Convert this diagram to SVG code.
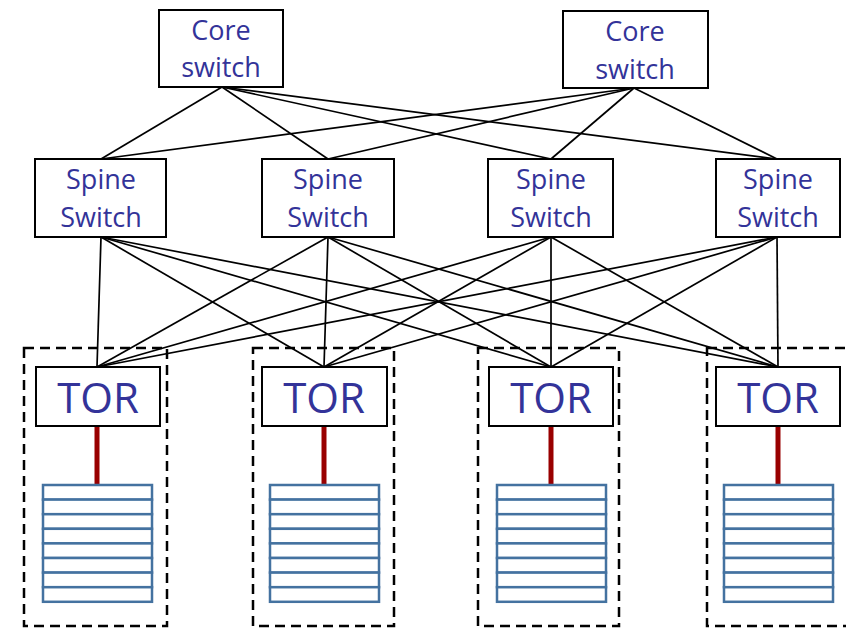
<svg xmlns="http://www.w3.org/2000/svg" width="846" height="628" viewBox="0 0 846 628">
<style>
.box{fill:#fff;stroke:#000;stroke-width:2}
.lbl{font-family:"Open Sans","Noto Sans",sans-serif;fill:#333399;text-anchor:middle}
.sw{font-size:27px}
.tor{font-size:42px}
.grp{fill:none;stroke:#000;stroke-width:2.5;stroke-dasharray:10,6}
.conn line{stroke:#000;stroke-width:1.7}
.conn line.up{stroke:#990000;stroke-width:5}
.srv{fill:#fff;stroke:#4472a0;stroke-width:2.5}
</style>
<rect width="846" height="628" fill="#fff"/>
<g id="racks">
<rect class="grp" x="24" y="348" width="143" height="278"/>
<rect class="grp" x="253" y="348" width="141" height="278"/>
<rect class="grp" x="478" y="348" width="141" height="278"/>
<rect class="grp" x="707" y="348" width="150" height="278"/>
</g>
<g class="conn" id="connectors">
<line x1="222" y1="87" x2="101" y2="159"/>
<line x1="222" y1="87" x2="328" y2="159"/>
<line x1="222" y1="87" x2="551" y2="159"/>
<line x1="222" y1="87" x2="777" y2="159"/>
<line x1="634" y1="88" x2="101" y2="159"/>
<line x1="634" y1="88" x2="328" y2="159"/>
<line x1="634" y1="88" x2="551" y2="159"/>
<line x1="634" y1="88" x2="777" y2="159"/>
<line x1="101" y1="237" x2="97" y2="367"/>
<line x1="101" y1="237" x2="324" y2="367"/>
<line x1="101" y1="237" x2="551" y2="367"/>
<line x1="101" y1="237" x2="778" y2="367"/>
<line x1="328" y1="237" x2="97" y2="367"/>
<line x1="328" y1="237" x2="324" y2="367"/>
<line x1="328" y1="237" x2="551" y2="367"/>
<line x1="328" y1="237" x2="778" y2="367"/>
<line x1="551" y1="237" x2="97" y2="367"/>
<line x1="551" y1="237" x2="324" y2="367"/>
<line x1="551" y1="237" x2="551" y2="367"/>
<line x1="551" y1="237" x2="778" y2="367"/>
<line x1="777" y1="237" x2="97" y2="367"/>
<line x1="777" y1="237" x2="324" y2="367"/>
<line x1="777" y1="237" x2="551" y2="367"/>
<line x1="777" y1="237" x2="778" y2="367"/>
<line class="up" x1="97" y1="426" x2="97" y2="485"/>
<line class="up" x1="324" y1="426" x2="324" y2="485"/>
<line class="up" x1="551" y1="426" x2="551" y2="485"/>
<line class="up" x1="778" y1="426" x2="778" y2="485"/>
</g>
<g id="core1"><rect class="box" x="159" y="10" width="124" height="77"/><text class="lbl sw" x="221" y="40">Core</text><text class="lbl sw" x="221" y="77">switch</text></g>
<g id="core2"><rect class="box" x="563" y="11" width="145" height="77"/><text class="lbl sw" x="635" y="41">Core</text><text class="lbl sw" x="635" y="79">switch</text></g>
<g id="spine1"><rect class="box" x="35" y="159" width="131" height="78"/><text class="lbl sw" x="101" y="189">Spine</text><text class="lbl sw" x="101" y="227">Switch</text></g>
<g id="spine2"><rect class="box" x="262" y="159" width="132" height="78"/><text class="lbl sw" x="328" y="189">Spine</text><text class="lbl sw" x="328" y="227">Switch</text></g>
<g id="spine3"><rect class="box" x="488" y="159" width="125" height="78"/><text class="lbl sw" x="551" y="189">Spine</text><text class="lbl sw" x="551" y="227">Switch</text></g>
<g id="spine4"><rect class="box" x="716" y="159" width="124" height="78"/><text class="lbl sw" x="778" y="189">Spine</text><text class="lbl sw" x="778" y="227">Switch</text></g>
<g id="tor1"><rect class="box" x="36" y="367" width="124" height="59"/><text class="lbl tor" x="98" y="413">TOR</text></g>
<g id="tor2"><rect class="box" x="262" y="367" width="125" height="59"/><text class="lbl tor" x="324" y="413">TOR</text></g>
<g id="tor3"><rect class="box" x="489" y="367" width="124" height="59"/><text class="lbl tor" x="551" y="413">TOR</text></g>
<g id="tor4"><rect class="box" x="716" y="367" width="124" height="59"/><text class="lbl tor" x="778" y="413">TOR</text></g>
<defs>
<g id="stack">
<rect class="srv" x="0" y="0" width="109" height="14.6"/>
<rect class="srv" x="0" y="14.6" width="109" height="14.6"/>
<rect class="srv" x="0" y="29.2" width="109" height="14.6"/>
<rect class="srv" x="0" y="43.8" width="109" height="14.6"/>
<rect class="srv" x="0" y="58.4" width="109" height="14.6"/>
<rect class="srv" x="0" y="73" width="109" height="14.6"/>
<rect class="srv" x="0" y="87.6" width="109" height="14.6"/>
<rect class="srv" x="0" y="102.2" width="109" height="14.6"/>
</g>
</defs>
<g id="servers1"><use href="#stack" x="43" y="485"/></g>
<g id="servers2"><use href="#stack" x="270" y="485"/></g>
<g id="servers3"><use href="#stack" x="497" y="485"/></g>
<g id="servers4"><use href="#stack" x="724" y="485"/></g>
</svg>
